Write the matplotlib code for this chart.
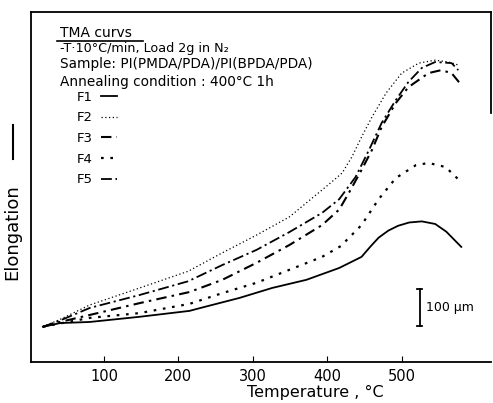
import matplotlib
matplotlib.use("Agg")
import matplotlib.pyplot as plt

# TMA curves (temperature in degC, elongation in um)
t_f1 = [18, 41, 81, 148, 215, 228, 282, 326, 372, 416, 446, 458, 469, 482, 495, 510, 527, 545, 560, 580]
e_f1 = [95, 105, 108, 122, 138, 145, 173, 200, 222, 254, 284, 312, 336, 355, 368, 377, 380, 373, 352, 311]

t_f2 = [18, 41, 81, 148, 213, 259, 305, 349, 393, 412, 420, 433, 446, 460, 479, 500, 523, 545, 563, 576]
e_f2 = [95, 115, 154, 200, 245, 295, 343, 392, 465, 497, 511, 554, 608, 662, 727, 781, 808, 816, 811, 803]

t_f3 = [18, 41, 81, 148, 215, 259, 305, 349, 393, 416, 429, 446, 460, 473, 492, 509, 536, 553, 567, 580]
e_f3 = [95, 108, 127, 159, 189, 222, 268, 316, 370, 412, 457, 519, 573, 635, 700, 743, 781, 789, 781, 749]

t_f4 = [18, 41, 81, 148, 215, 259, 305, 349, 393, 418, 446, 469, 492, 519, 536, 559, 580]
e_f4 = [95, 104, 119, 132, 157, 186, 214, 249, 284, 313, 370, 440, 497, 532, 538, 527, 486]

t_f5 = [18, 41, 81, 148, 213, 259, 305, 349, 393, 416, 438, 456, 473, 492, 509, 527, 545, 567, 576]
e_f5 = [95, 112, 146, 181, 218, 262, 303, 351, 403, 440, 500, 573, 646, 708, 757, 795, 811, 808, 789]

x_ticks = [100, 200, 300, 400, 500]
labels = ["F1", "F2", "F3", "F4", "F5"]

fig = plt.figure(figsize=(4.93, 4.03), dpi=100)
ax = fig.add_axes([0.063, 0.102, 0.933, 0.868])

ax.plot(t_f1, e_f1, color="black", lw=1.3, ls="-", label=labels[0])
ax.plot(t_f2, e_f2, color="black", lw=0.9, ls=(0, (1, 2)), label=labels[1])
ax.plot(t_f3, e_f3, color="black", lw=1.5, ls=(0, (5, 2.5, 1.2, 2.5)), label=labels[2])
ax.plot(t_f4, e_f4, color="black", lw=1.6, ls=(0, (1.2, 3)), label=labels[3])
ax.plot(t_f5, e_f5, color="black", lw=1.3, ls=(0, (6, 2, 1.2, 2)), label=labels[4])

ax.set_xlim(2, 620)
ax.set_ylim(0, 946)
ax.set_xticks(x_ticks)
ax.set_yticks([])
ax.tick_params(axis="x", direction="in", length=4, labelsize=10.5, pad=5)
for s in ax.spines.values():
    s.set_linewidth(1.3)
ax.spines["right"].set_bounds(673, 946)

ax.set_xlabel("Temperature , °C", fontsize=11.5)
ax.xaxis.set_label_coords(0.617, -0.065)

fig.text(0.024, 0.424, "Elongation", rotation=90, fontsize=13,
         ha="center", va="center")
fig.add_artist(plt.Line2D([0.027, 0.027], [0.605, 0.69], color="black", lw=1.5))

# header text
ax.text(0.063, 0.94, "TMA curvs", transform=ax.transAxes, fontsize=10, va="center")
ax.plot([0.057, 0.243], [0.917, 0.917], transform=ax.transAxes,
        color="black", lw=1.2)
ax.text(0.063, 0.895, "-T·10°C/min, Load 2g in N₂", transform=ax.transAxes,
        fontsize=9.2, va="center")
ax.text(0.063, 0.851, "Sample: PI(PMDA/PDA)/PI(BPDA/PDA)", transform=ax.transAxes,
        fontsize=9.8, va="center")
ax.text(0.063, 0.800, "Annealing condition : 400°C 1h", transform=ax.transAxes,
        fontsize=9.8, va="center")

ax.legend(loc="upper left", bbox_to_anchor=(0.1, 0.775), frameon=False,
          fontsize=9.5, handlelength=1.2, handletextpad=0.6, labelspacing=0.58,
          markerfirst=False, borderaxespad=0, borderpad=0)

# 100 um scale bar
ax.plot([524, 524], [97, 197], color="black", lw=1.3)
ax.plot([521, 527], [97, 97], color="black", lw=1.3)
ax.plot([521, 527], [197, 197], color="black", lw=1.3)
ax.text(532, 147, "100 μm", fontsize=9, va="center")

fig.savefig("out.png", dpi=100)
